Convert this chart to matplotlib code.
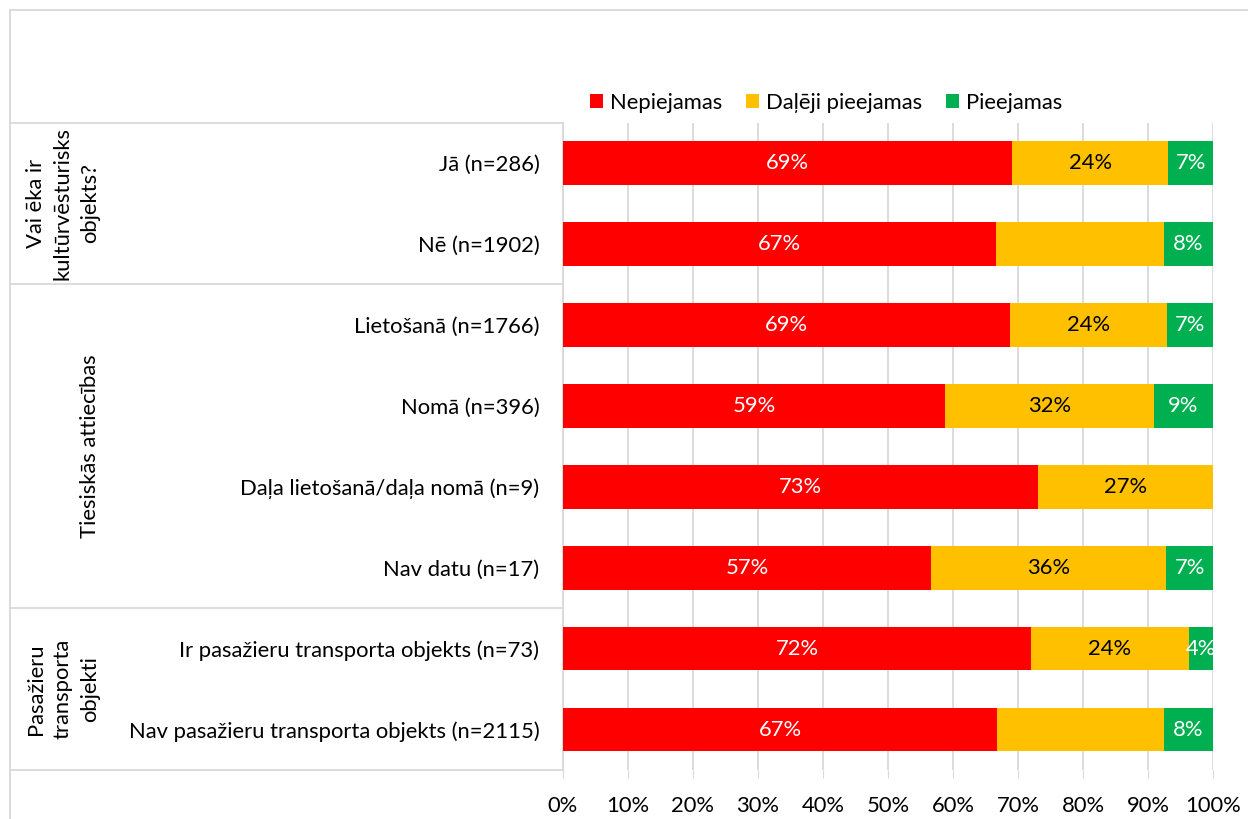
import numpy as np
import matplotlib.pyplot as plt
import matplotlib.transforms as mtransforms
from matplotlib.lines import Line2D

plt.rcParams['font.family'] = ['Lato', 'DejaVu Sans']

categories = ["Jā (n=286)", "Nē (n=1902)", "Lietošanā (n=1766)", "Nomā (n=396)",
              "Daļa lietošanā/daļa nomā (n=9)", "Nav datu (n=17)",
              "Ir pasažieru transporta objekts (n=73)",
              "Nav pasažieru transporta objekts (n=2115)"]
nepiejamas = [69.1, 66.6, 68.8, 58.8, 73.1, 56.6, 72.0, 66.8]
daleji = [24.0, 25.9, 24.1, 32.1, 26.9, 36.2, 24.3, 25.7]
pieejamas = [6.9, 7.5, 7.1, 9.1, 0.0, 7.2, 3.7, 7.5]
# labels as shown (None = no label in the original)
lab_nep = ["69%", "67%", "69%", "59%", "73%", "57%", "72%", "67%"]
lab_dal = ["24%", None, "24%", "32%", "27%", "36%", "24%", None]
lab_pie = ["7%", "8%", "7%", "9%", None, "7%", "4%", "8%"]
series_names = ["Nepiejamas", "Daļēji pieejamas", "Pieejamas"]
colors = ["#FF0000", "#FFC000", "#00B050"]
groups = ["Vai ēka ir\nkultūrvēsturisks\nobjekts?", "Tiesiskās attiecības",
          "Pasažieru\ntransporta\nobjekti"]
group_ranges = [(0, 1), (2, 5), (6, 7)]

W, H = 1248, 819
fig = plt.figure(figsize=(W / 100, H / 100), dpi=100)
ax = fig.add_axes([563 / W, 1 - 770 / H, 650 / W, (770 - 122.5) / H])

y = np.arange(len(categories))
fs = 15.8
left = np.zeros(len(categories))
all_vals = [nepiejamas, daleji, pieejamas]
all_labs = [lab_nep, lab_dal, lab_pie]
txt_colors = ["white", "black", "white"]
for vals, labs, c, name, tc in zip(all_vals, all_labs, colors, series_names, txt_colors):
    vals = np.array(vals)
    ax.barh(y, vals, left=left, height=0.54, color=c, label=name, zorder=3)
    for i in range(len(vals)):
        if labs[i]:
            ax.text(left[i] + vals[i] / 2, y[i], labs[i], ha='center', va='center',
                    color=tc, fontsize=fs, zorder=4)
    left = left + vals

ax.set_xlim(0, 100)
ax.set_ylim(len(categories) - 0.5, -0.5)
ax.set_xticks(np.arange(0, 101, 10))
ax.set_xticklabels([f"{v}%" for v in range(0, 101, 10)], fontsize=fs)
ax.set_yticks(y)
ax.set_yticklabels(categories, fontsize=fs)
ax.tick_params(axis='y', length=0, pad=17)
ax.tick_params(axis='x', length=6, color="#d9d9d9", pad=13)
ax.grid(axis='x', color="#d9d9d9", linewidth=1.3, zorder=0)
for s in ["top", "right", "bottom"]:
    ax.spines[s].set_visible(False)
ax.spines["left"].set_color("#d9d9d9")
ax.spines["left"].set_linewidth(1.3)

# group boxes on the left
tr = mtransforms.blended_transform_factory(fig.transFigure, ax.transData)
x0 = 10 / W
x1 = 563 / W
for b in [-0.5, 1.5, 5.5, 7.5]:
    fig.add_artist(Line2D([x0, x1], [b, b], transform=tr, color="#d9d9d9", lw=1.3))
for g, (a, b) in zip(groups, group_ranges):
    fig.text(100 / W, (a + b) / 2, g, transform=tr, rotation=90, ha='right', va='center',
             multialignment='center', fontsize=fs, linespacing=1.45)

# outer chart border
fig.add_artist(Line2D([x0, 1], [1 - 10 / H, 1 - 10 / H], color="#d9d9d9", lw=1.3))
fig.add_artist(Line2D([x0, x0], [0, 1 - 10 / H], color="#d9d9d9", lw=1.3))

fig.legend(loc='center', bbox_to_anchor=(826 / W, 1 - 103 / H), ncol=3, frameon=False,
           fontsize=fs, handlelength=0.6, handleheight=0.6, handletextpad=0.3,
           columnspacing=1.1)

fig.savefig("out.png", dpi=100)
